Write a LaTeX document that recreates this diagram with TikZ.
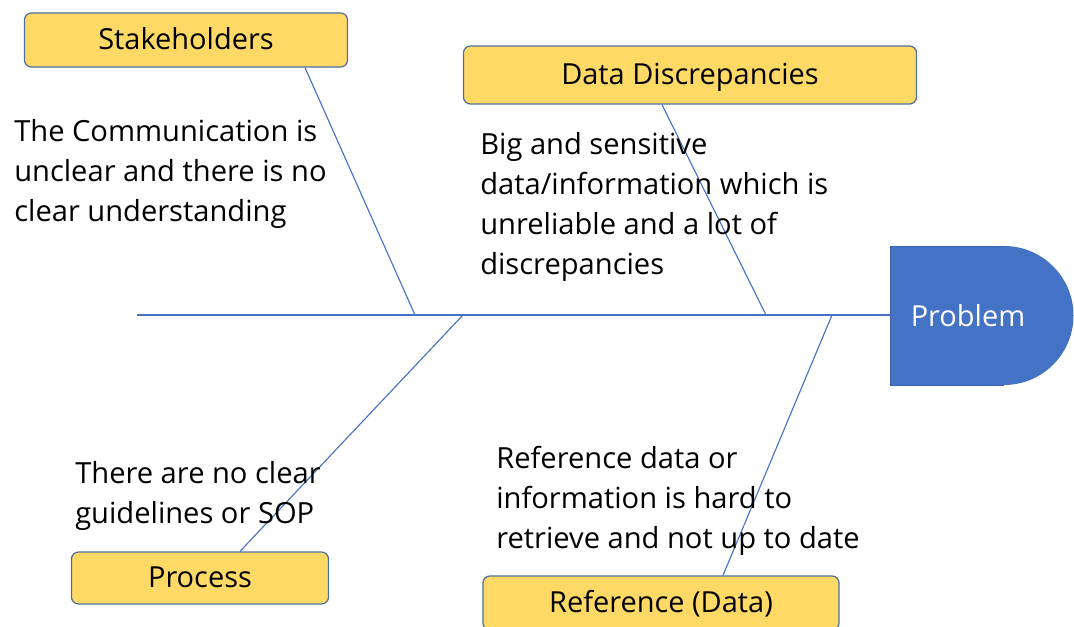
\documentclass[tikz,border=0pt]{standalone}
\usepackage{fontspec}
\setmainfont{Open Sans}
\usepackage{tikz}
\usetikzlibrary{positioning, calc}

\definecolor{boxgold}{RGB}{255,217,102}
\definecolor{boxedge}{RGB}{80,112,160}
\definecolor{boneblue}{RGB}{68,114,196}
\definecolor{headedge}{RGB}{58,96,170}

\tikzset{
  cause/.style={draw=boxedge, line width=0.9pt, fill=boxgold, rounded corners=5pt,
    minimum height=1.35cm, inner sep=0pt, text height=14pt, text depth=1pt,
    font=\fontsize{20.6}{27}\selectfont},
  bone/.style={draw=boneblue, line width=0.8pt},
  note/.style={anchor=north west, inner sep=0pt, align=left,
    font=\fontsize{20.7}{28.45}\selectfont}
}

\begin{document}
\begin{tikzpicture}[x=0.025cm, y=-0.025cm]
  \useasboundingbox (0,0) rectangle (1074,626);

  % Head (problem)
  \fill[boneblue] (890,246) -- (1004,246)
    .. controls (1042.4,246) and (1073.5,277.1) .. (1073.5,315.5)
    .. controls (1073.5,353.9) and (1042.4,385) .. (1004,385)
    -- (890,385) -- cycle;
  \draw[headedge, line width=0.6pt] (1004,246) -- (890,246) -- (890,385) -- (1004,385);
  \node[text=white, font=\fontsize{20.6}{27}\selectfont] (problem) at (968,316) {Problem};

  % Spine
  \coordinate (tail) at (137,315);
  \coordinate (head) at (890,315);
  \draw[bone] (tail) -- (head);

  % Cause boxes
  \node[cause, minimum width=8.075cm] (stake) at (186,40) {Stakeholders};
  \node[cause, minimum width=11.325cm, minimum height=1.45cm] (datadisc) at (690,75) {Data Discrepancies};
  \node[cause, minimum width=6.425cm, minimum height=1.3cm] (process) at (200,578) {Process};
  \node[cause, minimum width=8.9cm] (refdata) at (661,603) {Reference (Data)};

  % Bones
  \coordinate (j1) at (415,315);
  \coordinate (j2) at (766,315);
  \coordinate (j3) at (463,315);
  \coordinate (j4) at (832,315);
  \draw[bone] (stake.south -| 305,0) -- (j1);
  \draw[bone] (datadisc.south -| 662,0) -- (j2);
  \draw[bone] (process.north -| 240,0) -- (j3);
  \draw[bone] (refdata.north -| 723,0) -- (j4);

  % Notes
  \node[note] (commnote) at (14,119) {The Communication is\\unclear and there is no\\clear understanding};
  \node[note] (datanote) at (480,132) {Big and sensitive\\data/information which is\\unreliable and a lot of\\discrepancies};
  \node[note] (procnote) at (75,461) {There are no clear\\guidelines or SOP};
  \node[note] (refnote) at (496,446) {Reference data or\\information is hard to\\retrieve and not up to date};
\end{tikzpicture}
\end{document}
